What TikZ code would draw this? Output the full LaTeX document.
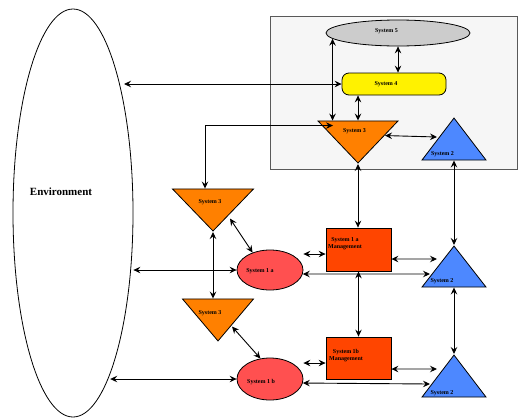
\documentclass[tikz,border=0pt]{standalone}
\usepackage{fontspec}
\setmainfont{Liberation Serif}
\usepackage{tikz}
\usetikzlibrary{arrows.meta}
\usetikzlibrary{positioning}
\usetikzlibrary{shapes.geometric}

\definecolor{sysorange}{RGB}{255,128,0}
\definecolor{sysblue}{RGB}{77,136,255}
\definecolor{sysred}{RGB}{255,80,80}
\definecolor{sysmgmt}{RGB}{255,69,0}
\definecolor{syspanel}{RGB}{246,246,246}

\begin{document}
\begin{tikzpicture}
			[x=1pt,y=-1pt,>={Stealth[length=7pt,width=6.5pt,inset=2.5pt]},every node/.style={line width=0.8pt},
			lbl/.style={font=\bfseries\fontsize{6}{7}\selectfont,inner sep=0pt,align=center},
			tri/.style={draw,isosceles triangle,isosceles triangle stretches,inner sep=0pt},
			triup/.style={tri,shape border rotate=90,fill=sysblue},
			tridown/.style={tri,shape border rotate=-90,fill=sysorange},
			conn/.style={<->,line width=0.9pt}]
			\useasboundingbox (0,0) rectangle (518,418);
			\node[draw=black!65,fill=syspanel,minimum width=247pt,minimum height=153pt,anchor=north west] (panel) at (270,16) {};
			
			\node[draw,ellipse,minimum width=120pt,minimum height=408pt] (env) at (73,213) {};
			\node[draw,ellipse,fill=black!20,minimum width=144pt,minimum height=26pt] (sys5) at (398,33) {};
			\node[draw,rounded corners=7pt,fill=yellow,minimum width=104pt,minimum height=22pt] (sys4) at (394,84) {};
			\node[tridown,minimum width=80pt,minimum height=42pt,anchor=apex] (sys3top) at (358,164) {};
			\node[triup,minimum width=64pt,minimum height=42pt,anchor=apex] (sys2top) at (454,117) {};
			\node[tridown,minimum width=81pt,minimum height=42pt,anchor=apex] (sys3mid) at (213,232) {};
			\node[tridown,minimum width=71pt,minimum height=42pt,anchor=apex] (sys3low) at (218,342) {};
			\node[draw,ellipse,fill=sysred,minimum width=66pt,minimum height=40pt] (sys1a) at (270,270) {};
			\node[draw,ellipse,fill=sysred,minimum width=66pt,minimum height=42pt] (sys1b) at (270,379) {};
			\node[draw,fill=sysmgmt,minimum width=65pt,minimum height=43pt] (mgmt1a) at (358.5,249.5) {};
			\node[draw,fill=sysmgmt,minimum width=65pt,minimum height=42pt] (mgmt1b) at (358.5,358) {};
			\node[triup,minimum width=64pt,minimum height=41pt,anchor=apex] (sys2mid) at (454,245) {};
			\node[triup,minimum width=64pt,minimum height=42pt,anchor=apex] (sys2low) at (454,354) {};
			
			\node[lbl,font=\bfseries\fontsize{11}{13}\selectfont] (envtxt) at (61,192) {Environment};
			\node[lbl] (t5) at (386.5,31) {System 5};
			\node[lbl] (t4) at (386,84.5) {System 4};
			\node[lbl] (t3top) at (354.5,131.5) {System 3};
			\node[lbl] (t2top) at (442.5,154) {System 2};
			\node[lbl] (t3mid) at (210,202) {System 3};
			\node[lbl] (t3low) at (210,313) {System 3};
			\node[lbl] (t1a) at (260,271) {System 1 a};
			\node[lbl] (t1b) at (261,382) {System 1 b};
			\node[lbl] (tm1a) at (345,243.5) {System 1 a\\Management};
			\node[lbl] (tm1b) at (346,355.5) {System 1b\\Management};
			\node[lbl] (t2mid) at (442,281) {System 2};
			\node[lbl] (t2low) at (442,393) {System 2};
			
			\draw[conn] (sys5.south) -- (sys5.south |- sys4.north);
			\draw[conn] (sys5.185) -- (sys5.185 |- sys3top.north);
			\draw[conn] (sys3top.north |- sys4.south) -- (sys3top.north);
			\draw[conn] (env.65 |- sys4.west) -- (sys4.west);
			\draw[conn] ([xshift=-25pt,yshift=-5pt]sys3top.north) -| ([xshift=-8pt]sys3mid.north);
			\draw[conn] ([xshift=27pt,yshift=-15pt]sys3top.north) -- ([xshift=-17pt,yshift=-20pt]sys2top.north);
			\draw[conn] (sys3top.south) -- (sys3top.south |- mgmt1a.north);
			\draw[conn] (sys2top.south) -- (sys2mid.north);
			\draw[conn] ([xshift=17pt,yshift=-30pt]sys3mid.north) -- (sys1a.135);
			\draw[conn] (sys3mid.south) -- (sys3mid.south |- sys3low.north);
			\draw[conn] (env.east |- sys1a.west) -- (sys1a.west);
			\draw[conn] ([xshift=14pt,yshift=-28pt]sys3low.north) -- (sys1b.115);
			\draw[conn] (env.-77 |- sys1b.west) -- (sys1b.west);
			\draw[conn] ([yshift=-4.5pt]mgmt1a.west -| sys1a.east) -- ([yshift=-4.5pt]mgmt1a.west);
			\draw[conn] ([yshift=-9.5pt]mgmt1a.east) -- ([xshift=-17pt,yshift=-14pt]sys2mid.north);
			\draw[conn] (sys1a.-7) -- ([xshift=-24pt,yshift=-29pt]sys2mid.north);
			\draw[conn] (mgmt1a.south) -- (mgmt1b.north);
			\draw[conn] (sys2mid.south) -- (sys2low.north);
			\draw[conn] ([yshift=-5pt]mgmt1b.west -| sys1b.east) -- ([yshift=-5pt]mgmt1b.west);
			\draw[conn] ([yshift=-11pt]mgmt1b.east) -- ([xshift=-17pt,yshift=-15pt]sys2low.north);
			\draw[conn] (sys1b.-7) -- ([xshift=-24pt,yshift=-30pt]sys2low.north);
			\end{tikzpicture}
\end{document}
